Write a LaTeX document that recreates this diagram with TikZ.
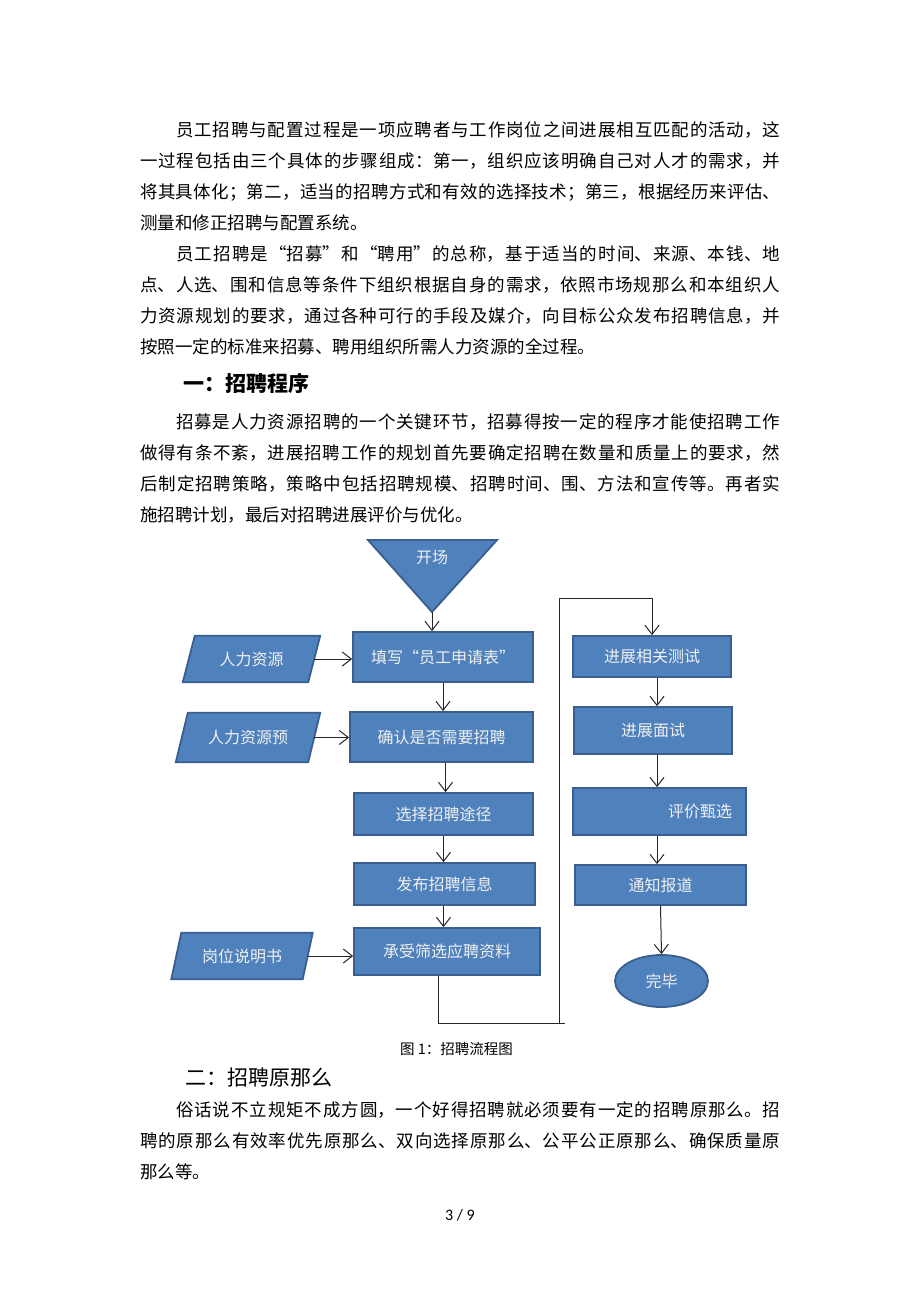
\documentclass[tikz,border=0pt]{standalone}
\usepackage{fontspec}
\setmainfont{Noto Sans CJK SC}
\newfontfamily\latinfont{Carlito}
\usetikzlibrary{arrows.meta,shapes.geometric,backgrounds}
\XeTeXlinebreaklocale "zh"
\XeTeXlinebreakskip=0pt
\definecolor{boxblue}{HTML}{4F81BD}
\definecolor{boxedge}{HTML}{3A5F8E}
\definecolor{boxtext}{HTML}{F0F0F0}
\newcommand\fullline[2]{\parbox{#1}{\XeTeXlinebreakskip=0pt plus 6pt minus 1pt\relax\parfillskip=0pt\relax #2}}
\tikzset{
  bodyline/.style={anchor=west, inner sep=0pt, text=black, font=\fontsize{17.5pt}{20pt}\selectfont},
  flowbox/.style={draw=boxedge, line width=1.8pt, fill=boxblue, text=boxtext, inner sep=0pt, font=\fontsize{16pt}{18pt}\selectfont},
  flowtext/.style={inner sep=0pt, text=boxtext, font=\fontsize{16pt}{18pt}\selectfont},
  flowshape/.style={draw=boxedge, line width=1.8pt, fill=boxblue},
  conn/.style={draw=black!85, line width=1pt, -{Straight Barb[length=9pt,width=14pt]}},
  plainline/.style={draw=black!85, line width=1pt}
}
\begin{document}
\begin{tikzpicture}[x=1pt,y=-1pt]
\useasboundingbox (0,0) rectangle (920,1302);

% ---- body text ----
\node[bodyline] (l1) at (176,130) {\fullline{604pt}{员工招聘与配置过程是一项应聘者与工作岗位之间进展相互匹配的活动，这}};
\node[bodyline] (l2) at (140,161) {\fullline{640pt}{一过程包括由三个具体的步骤组成：第一，组织应该明确自己对人才的需求，并}};
\node[bodyline] (l3) at (140,192) {\fullline{640pt}{将其具体化；第二，适当的招聘方式和有效的选择技术；第三，根据经历来评估、}};
\node[bodyline] (l4) at (140,223) {测量和修正招聘与配置系统。};
\node[bodyline] (l5) at (176,254) {\fullline{604pt}{员工招聘是“招募”和“聘用”的总称，基于适当的时间、来源、本钱、地}};
\node[bodyline] (l6) at (140,285) {\fullline{640pt}{点、人选、围和信息等条件下组织根据自身的需求，依照市场规那么和本组织人}};
\node[bodyline] (l7) at (140,316) {\fullline{640pt}{力资源规划的要求，通过各种可行的手段及媒介，向目标公众发布招聘信息，并}};
\node[bodyline] (l8) at (140,347) {按照一定的标准来招募、聘用组织所需人力资源的全过程。};
\node[anchor=west, inner sep=0pt, font=\fontsize{21pt}{24pt}\selectfont\bfseries] (h1) at (183,383) {一：招聘程序};
\node[bodyline] (l9) at (176,422) {\fullline{604pt}{招募是人力资源招聘的一个关键环节，招募得按一定的程序才能使招聘工作}};
\node[bodyline] (l10) at (140,453) {\fullline{640pt}{做得有条不紊，进展招聘工作的规划首先要确定招聘在数量和质量上的要求，然}};
\node[bodyline] (l11) at (140,484) {\fullline{640pt}{后制定招聘策略，策略中包括招聘规模、招聘时间、围、方法和宣传等。再者实}};
\node[bodyline] (l12) at (140,515) {施招聘计划，最后对招聘进展评价与优化。};

\node[anchor=west, inner sep=0pt, font=\fontsize{14.5pt}{16pt}\selectfont] (cap) at (400,1049) {图 1：招聘流程图};
\node[anchor=west, inner sep=0pt, font=\fontsize{21pt}{24pt}\selectfont] (h2) at (185,1078) {二：招聘原那么};
\node[bodyline] (l13) at (176,1110) {\fullline{604pt}{俗话说不立规矩不成方圆，一个好得招聘就必须要有一定的招聘原那么。招}};
\node[bodyline] (l14) at (140,1141) {\fullline{640pt}{聘的原那么有效率优先原那么、双向选择原那么、公平公正原那么、确保质量原}};
\node[bodyline] (l15) at (140,1172) {那么等。};
\node[inner sep=0pt, font=\latinfont\fontsize{16pt}{18pt}\selectfont] (pg) at (460,1215) {3 / 9};

% ---- flowchart ----
\filldraw[flowshape] (368,540) -- (497,540) -- (432,612) -- cycle;
\node[flowtext] (start) at (432,558) {开场};
\coordinate (startTip) at (432,612);

\node[flowbox, minimum width=180pt, minimum height=50pt] (fill) at (443,657) {填写“员工申请表”};
\node[flowbox, minimum width=183pt, minimum height=50pt] (confirm) at (441.5,737) {确认是否需要招聘};
\node[flowbox, minimum width=179pt, minimum height=42pt] (choose) at (443.5,814) {选择招聘途径};
\node[flowbox, minimum width=181pt, minimum height=42pt] (publish) at (444.5,884) {发布招聘信息};
\node[flowbox, minimum width=186pt, minimum height=47pt] (screen) at (447,951.5) {承受筛选应聘资料};

\node[flowbox, minimum width=158pt, minimum height=41pt] (test) at (652,656.5) {进展相关测试};
\node[flowbox, minimum width=158pt, minimum height=47pt] (interview) at (653,730.5) {进展面试};
\node[flowbox, minimum width=173pt, minimum height=47pt, text width=145pt, align=right] (evaluate) at (659.5,811.5) {评价甄选};
\node[flowbox, minimum width=171pt, minimum height=40pt] (notify) at (660.5,885) {通知报道};
\node[flowbox, ellipse, minimum width=93pt, minimum height=52pt] (finish) at (661.5,981) {完毕};

\node[flowtext, minimum width=125pt, minimum height=46pt] (hr1) at (251.5,659) {人力资源};
\node[flowtext, minimum width=132pt, minimum height=49pt] (hr2) at (248,737.5) {人力资源预};
\node[flowtext, minimum width=131pt, minimum height=46pt] (post) at (242,956) {岗位说明书};

\begin{scope}[on background layer]
\fill[white] (0,0) rectangle (920,1302);
\filldraw[flowshape] ([xshift=-6pt]hr1.south west) -- ([xshift=-6pt]hr1.south east) -- ([xshift=6pt]hr1.north east) -- ([xshift=6pt]hr1.north west) -- cycle;
\filldraw[flowshape] ([xshift=-6pt]hr2.south west) -- ([xshift=-6pt]hr2.south east) -- ([xshift=6pt]hr2.north east) -- ([xshift=6pt]hr2.north west) -- cycle;
\filldraw[flowshape] ([xshift=-5pt]post.south west) -- ([xshift=-5pt]post.south east) -- ([xshift=5pt]post.north east) -- ([xshift=5pt]post.north west) -- cycle;
\end{scope}

% connectors
\draw[conn] (startTip) -- (startTip |- fill.north);
\draw[conn] (fill.south) -- (fill.south |- confirm.north);
\draw[conn] ([xshift=4pt]confirm.south) -- ([xshift=4pt]confirm.south |- choose.north);
\draw[conn] (choose.south) -- (choose.south |- publish.north);
\draw[conn] ([xshift=-1pt]publish.south) -- ([xshift=-1pt]publish.south |- screen.north);
\draw[conn] (hr1.east) -- (hr1.east -| fill.west);
\draw[conn] (hr2.east) -- (hr2.east -| confirm.west);
\draw[conn] (post.east) -- (post.east -| screen.west);

\coordinate (loopBL) at (438,1023);
\coordinate (loopBR) at (559,1023);
\coordinate (loopTR) at (559,598);
\coordinate (colR) at (657,0);
\draw[plainline] (loopBR) -- (565,1023);
\draw[conn] ([xshift=-9pt]screen.south) -- (loopBL) -- (loopBR) -- (loopTR) -- (loopTR -| test.north) -- (test.north);
\draw[conn] (test.south -| colR) -- (interview.north -| colR);
\draw[conn] (interview.south -| colR) -- (evaluate.north -| colR);
\draw[conn] (evaluate.south -| colR) -- (notify.north -| colR);
\draw[conn] (notify.south) -- (finish.north);
\end{tikzpicture}
\end{document}
